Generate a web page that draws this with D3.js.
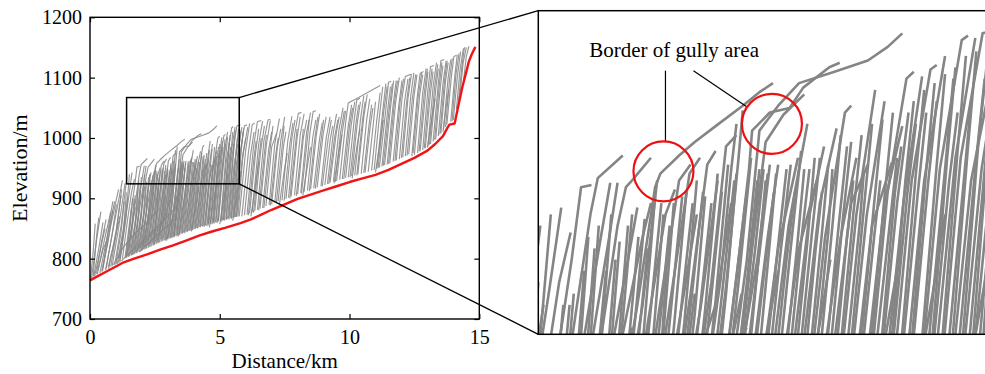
<!DOCTYPE html>
<html>
<head>
<meta charset="utf-8">
<script src="https://cdn.jsdelivr.net/npm/d3@7"></script>
<style>
  body { margin: 0; background: #fff; }
  svg { display: block; }
</style>
</head>
<body>
<svg id="chart" width="985" height="374"></svg>
<script>
// main channel profile (red)
const mainDist = [0, 0.3, 0.6, 1.0, 1.3, 1.7, 2.2, 2.7, 3.2, 3.7, 4.2, 4.7, 5.2, 5.8, 6.2, 6.6, 7.0, 7.5, 8.0, 8.5, 9.0, 9.5, 10.0, 10.5, 11.0, 11.5, 12.0, 12.5, 13.0, 13.3, 13.6, 13.75, 13.85, 14.05, 14.2, 14.35, 14.5, 14.6, 14.7, 14.85];
const mainElev = [764, 771, 778, 787, 794, 800, 807, 815, 822, 830, 838, 845, 851, 859, 865, 873, 881, 890, 899, 906, 913, 920, 927, 933, 939, 947, 957, 967, 979, 990, 1003, 1015, 1022, 1024, 1055, 1085, 1110, 1127, 1138, 1151];

// tributary (gully) profiles, pairs of distance km / elevation m
const gullyA = [
  [0.02,766, 0.12,810, 0.20,858],
  [0.06,768, 0.25,830, 0.42,878],
  [0.12,770, 0.26,840, 0.34,868],
  [0.18,771, 0.40,815, 0.58,850],
  [0.28,774, 0.55,830, 0.80,878],
  [0.38,776, 0.68,840, 0.95,895],
  [0.48,779, 0.80,855, 1.10,915],
  [0.60,781, 0.92,855, 1.25,930],
  [0.72,783, 1.00,845, 1.20,905],
  [0.85,787, 1.10,850, 1.35,925],
  [0.95,789, 1.20,855, 1.42,935],
  [1.05,791, 1.28,848, 1.45,900],
  [0.50,785, 0.75,862, 0.88,895],
  [1.15,794, 1.38,865, 1.52,940],
  [0.30,780, 0.50,815, 0.70,835],
  [0.70,786, 0.95,830, 1.15,870],
  [0.15,772, 0.35,820, 0.50,860],
  [0.25,775, 0.45,830, 0.62,865],
  [0.45,779, 0.70,830, 0.88,880],
  [0.62,783, 0.85,840, 1.02,890],
  [0.80,787, 1.02,845, 1.22,915],
  [1.00,791, 1.20,845, 1.32,895],
  [1.10,793, 1.30,850, 1.40,910],
  [0.90,790, 1.30,820, 1.70,840, 2.20,860, 2.60,880],
  [1.20,796, 1.80,820, 2.40,845, 3.00,870, 3.40,890]
];
const gullyB = [
  [1.15,797, 1.35,860, 1.50,905, 1.62,943],
  [1.25,800, 1.45,865, 1.60,910, 1.71,932],
  [1.35,802, 1.55,868, 1.72,920, 1.81,952, 1.91,953],
  [1.45,806, 1.70,878, 1.90,940, 1.97,956, 2.21,966],
  [1.55,808, 1.80,875, 2.00,930, 2.09,954],
  [1.65,810, 1.90,880, 2.08,930, 2.16,954],
  [1.75,813, 2.00,885, 2.16,935, 2.24,952, 2.30,955, 2.48,965],
  [1.85,815, 2.10,880, 2.28,925, 2.35,943],
  [1.95,817, 2.20,885, 2.40,930, 2.48,945],
  [2.05,819, 2.35,900, 2.52,952, 2.57,958, 2.75,966, 2.90,972, 3.10,979, 3.36,988, 3.52,994, 3.65,998],
  [2.12,820, 2.40,900, 2.54,955],
  [2.22,822, 2.45,892, 2.62,940, 2.71,951],
  [2.32,824, 2.56,898, 2.75,955, 2.86,962],
  [2.42,826, 2.66,900, 2.85,958, 2.95,965],
  [2.52,828, 2.76,895, 2.92,940],
  [2.62,830, 2.86,905, 3.02,962, 3.10,968],
  [2.72,832, 2.96,900, 3.12,955],
  [2.82,834, 3.06,910, 3.20,970, 3.30,975],
  [1.60,806, 2.20,832, 2.80,858, 3.10,900, 3.25,945],
  [1.90,811, 2.60,840, 3.30,866, 3.50,920, 3.60,958],
  [1.40,804, 1.60,850, 1.75,885],
  [2.00,816, 2.20,858, 2.30,890],
  [2.60,828, 2.80,868, 2.90,905]
];
const gullyH = [
  [1.38,801, 1.52,850, 1.60,885],
  [1.48,803, 1.62,860, 1.70,900],
  [1.58,805, 1.75,865, 1.84,915],
  [1.68,807, 1.85,870, 1.94,925],
  [1.78,809, 1.95,868, 2.05,915],
  [1.88,811, 2.05,870, 2.14,920],
  [1.98,813, 2.15,872, 2.26,935],
  [2.08,815, 2.25,875, 2.36,930],
  [2.18,817, 2.35,880, 2.45,925],
  [2.28,819, 2.45,885, 2.58,945],
  [2.38,821, 2.55,885, 2.66,935],
  [2.48,823, 2.65,888, 2.78,948],
  [2.58,825, 2.75,890, 2.88,945],
  [2.68,827, 2.85,895, 2.98,950],
  [2.78,829, 2.95,898, 3.06,945],
  [2.88,831, 3.05,900, 3.16,950]
];
const gullyC = [
  [2.90,830, 3.15,912, 3.25,960, 3.30,980],
  [3.00,832, 3.20,908, 3.32,965, 3.36,986],
  [3.08,833, 3.30,912, 3.42,960, 3.45,977, 3.62,985, 3.81,987, 3.94,996, 4.19,1005, 4.29,1007],
  [3.15,834, 3.40,920, 3.52,977, 3.70,988, 3.90,998, 4.24,1003, 4.56,1008, 4.75,1014, 4.89,1020],
  [3.20,835, 3.45,925, 3.58,972, 3.75,984, 3.95,993],
  [3.25,836, 3.48,925, 3.56,960],
  [3.35,837, 3.60,930, 3.70,962],
  [3.45,839, 3.70,925, 3.89,965],
  [3.55,841, 3.80,935, 3.98,980],
  [3.65,842, 3.90,925, 4.07,955],
  [3.75,844, 4.00,940, 4.14,970],
  [3.85,846, 4.10,945, 4.26,978],
  [3.95,847, 4.15,930, 4.34,985, 4.40,988],
  [4.05,849, 4.30,930, 4.45,965],
  [4.15,850, 4.40,945, 4.56,962],
  [4.25,852, 4.45,940, 4.63,995],
  [4.35,853, 4.55,940, 4.72,990],
  [3.40,837, 3.60,890, 3.70,915],
  [2.95,830, 3.20,872, 3.35,905],
  [3.90,845, 4.10,892, 4.20,920]
];
const gullyI = [
  [2.98,833, 3.15,900, 3.28,955],
  [3.10,835, 3.28,905, 3.40,950],
  [3.22,837, 3.40,910, 3.50,955],
  [3.30,838, 3.50,915, 3.62,962],
  [3.38,840, 3.56,912, 3.66,950],
  [3.50,842, 3.68,918, 3.78,960],
  [3.60,843, 3.78,920, 3.86,950],
  [3.70,845, 3.88,925, 3.95,960],
  [3.80,846, 3.98,928, 4.05,965],
  [3.90,848, 4.06,925, 4.12,950],
  [4.00,849, 4.18,932, 4.22,960],
  [4.10,851, 4.28,935, 4.36,970],
  [4.20,852, 4.36,930, 4.42,955],
  [4.30,854, 4.48,935, 4.52,958]
];
const gullyL = [
  [1.42,802, 1.56,860, 1.64,900],
  [1.52,804, 1.66,862, 1.74,905],
  [1.62,806, 1.78,868, 1.88,930],
  [1.72,808, 1.88,872, 1.98,935],
  [1.82,810, 1.98,870, 2.10,940],
  [1.92,812, 2.08,872, 2.18,928],
  [2.02,814, 2.18,878, 2.30,940],
  [2.14,816, 2.30,880, 2.42,938],
  [2.24,818, 2.40,882, 2.52,948],
  [2.34,820, 2.50,885, 2.60,940],
  [2.44,822, 2.60,888, 2.70,945],
  [2.46,823, 2.58,880, 2.64,925],
  [2.54,824, 2.70,890, 2.82,950],
  [2.64,826, 2.80,892, 2.92,955],
  [2.74,828, 2.90,896, 3.00,948],
  [2.84,830, 3.00,898, 3.12,958],
  [2.94,832, 3.10,902, 3.22,962],
  [3.04,834, 3.20,905, 3.30,958],
  [3.14,836, 3.32,910, 3.44,965],
  [3.24,837, 3.42,912, 3.52,960],
  [3.34,839, 3.50,915, 3.58,955],
  [3.44,841, 3.60,918, 3.68,958],
  [3.54,842, 3.72,922, 3.82,962],
  [3.64,844, 3.82,925, 3.92,968],
  [3.74,845, 3.92,928, 4.00,960],
  [3.84,847, 4.02,930, 4.10,965],
  [3.94,848, 4.12,932, 4.18,962],
  [4.04,850, 4.22,935, 4.30,975],
  [4.14,851, 4.32,938, 4.40,972],
  [4.24,853, 4.42,940, 4.50,975],
  [4.34,854, 4.52,942, 4.60,980],
  [4.44,856, 4.62,945, 4.70,982],
  [4.54,857, 4.72,948, 4.80,985],
  [4.64,858, 4.82,950, 4.88,970],
  [4.74,859, 4.92,955, 5.00,990],
  [4.84,861, 5.02,958, 5.10,995],
  [4.94,862, 5.12,960, 5.20,998],
  [5.04,863, 5.22,962, 5.30,1002],
  [5.14,864, 5.32,965, 5.40,1005],
  [5.24,866, 5.42,968, 5.50,1010],
  [5.34,867, 5.52,970, 5.60,1012],
  [5.44,868, 5.62,972, 5.72,1015],
  [5.54,869, 5.72,975, 5.80,1012],
  [5.64,870, 5.82,978, 5.92,1016]
];
const gullyD = [
  [4.40,853, 4.60,935, 4.79,963],
  [4.50,854, 4.72,945, 4.89,979],
  [4.55,855, 4.75,950, 4.93,1000, 5.00,1003],
  [4.70,857, 4.90,945, 5.08,1001],
  [4.78,858, 4.98,955, 5.16,1004, 5.22,1006],
  [4.90,859, 5.10,955, 5.30,1010],
  [5.05,861, 5.25,960, 5.46,1017, 5.52,1019],
  [5.18,863, 5.40,965, 5.59,1018],
  [5.25,864, 5.45,965, 5.66,1020, 5.80,1022],
  [5.35,865, 5.55,955, 5.70,990],
  [5.45,866, 5.65,960, 5.85,1018],
  [5.55,868, 5.78,975, 5.95,1020, 6.05,1022],
  [5.65,869, 5.85,960, 6.00,1000],
  [5.75,870, 6.00,980, 6.15,1024],
  [4.60,852, 4.80,905, 4.90,930],
  [5.00,857, 5.20,910, 5.30,940],
  [5.50,863, 5.70,915, 5.80,945]
];
const gullyJ = [
  [4.45,855, 4.62,930, 4.68,955],
  [4.58,857, 4.78,940, 4.84,965],
  [4.65,858, 4.84,945, 4.95,985],
  [4.75,859, 4.94,950, 5.02,980],
  [4.85,860, 5.04,950, 5.12,985],
  [4.95,862, 5.14,955, 5.22,990],
  [5.10,863, 5.30,960, 5.38,1000],
  [5.15,864, 5.34,955, 5.42,985],
  [5.30,866, 5.50,965, 5.55,990],
  [5.40,867, 5.60,965, 5.68,1000],
  [5.50,868, 5.70,970, 5.76,1005],
  [5.60,869, 5.80,970, 5.90,1010],
  [5.70,870, 5.90,975, 6.08,1018]
];
const gullyE = [
  [5.85,870, 6.10,975, 6.25,1022, 6.35,1025],
  [5.95,872, 6.18,970, 6.32,1010],
  [6.05,873, 6.30,985, 6.45,1027, 6.60,1029],
  [6.15,875, 6.38,975, 6.50,1015],
  [6.25,877, 6.50,990, 6.65,1028],
  [6.35,879, 6.58,980, 6.72,1020],
  [6.45,881, 6.70,995, 6.86,1030, 6.95,1031],
  [6.55,883, 6.80,990, 6.95,1029],
  [6.65,884, 6.88,980, 7.00,1010],
  [6.78,887, 7.00,985, 7.19,1008],
  [6.90,889, 7.12,990, 7.30,1032],
  [7.00,890, 7.22,985, 7.35,1015],
  [7.12,893, 7.35,995, 7.50,1035],
  [7.25,895, 7.45,985, 7.55,1010],
  [7.40,897, 7.62,995, 7.78,1036],
  [7.55,899, 7.78,1000, 7.90,1030],
  [7.65,901, 7.88,1005, 8.03,1041, 8.15,1042],
  [7.75,903, 7.98,1000, 8.10,1035],
  [7.88,905, 8.10,1005, 8.25,1040],
  [8.00,907, 8.22,1000, 8.35,1030],
  [8.12,909, 8.35,1010, 8.50,1042],
  [8.25,911, 8.48,1010, 8.60,1044, 8.70,1045],
  [8.38,913, 8.58,1000, 8.70,1030],
  [8.50,915, 8.72,1005, 8.85,1040],
  [8.62,917, 8.85,1000, 8.95,1025],
  [8.75,918, 8.98,1005, 9.10,1035],
  [8.90,920, 9.10,1000, 9.25,1035],
  [9.05,922, 9.25,995, 9.35,1020],
  [6.20,870, 6.40,930, 6.50,960],
  [7.30,890, 7.50,950, 7.60,975],
  [8.20,905, 8.40,960, 8.50,985]
];
const gullyF = [
  [9.15,924, 9.38,1010, 9.50,1040],
  [9.25,926, 9.48,1005, 9.60,1035],
  [9.38,928, 9.60,1015, 9.75,1050],
  [9.50,929, 9.72,1010, 9.85,1045],
  [9.62,931, 9.85,1025, 9.95,1058, 10.30,1066, 10.80,1078, 11.18,1087],
  [9.72,932, 9.95,1020, 10.08,1055],
  [9.85,934, 10.06,1020, 10.20,1060],
  [9.95,935, 10.18,1030, 10.28,1063, 10.40,1066],
  [10.08,937, 10.30,1025, 10.42,1060],
  [10.20,938, 10.42,1030, 10.55,1070],
  [10.32,940, 10.55,1035, 10.68,1072],
  [10.45,941, 10.66,1030, 10.78,1065],
  [10.55,942, 10.76,1025, 10.85,1055],
  [10.85,946, 11.05,1030, 11.18,1075],
  [10.95,947, 11.15,1035, 11.28,1085],
  [11.05,949, 11.28,1045, 11.40,1090],
  [11.15,951, 11.38,1040, 11.50,1092, 11.60,1094],
  [11.25,953, 11.48,1050, 11.58,1085],
  [11.35,955, 11.58,1050, 11.70,1095],
  [11.45,956, 11.68,1055, 11.80,1095],
  [11.55,958, 11.78,1060, 11.92,1100],
  [11.68,961, 11.90,1055, 12.02,1095],
  [11.80,963, 12.02,1065, 12.15,1102, 12.40,1106],
  [11.92,965, 12.12,1060, 12.25,1098],
  [12.05,968, 12.25,1065, 12.38,1105],
  [12.15,970, 12.36,1070, 12.48,1108],
  [12.28,973, 12.48,1068, 12.60,1105],
  [9.40,925, 9.60,980, 9.70,1005],
  [10.10,933, 10.30,990, 10.40,1015],
  [11.00,943, 11.20,1000, 11.30,1030]
];
const gullyG = [
  [12.40,970, 12.60,1065, 12.72,1107, 12.85,1110],
  [12.50,972, 12.70,1070, 12.82,1105],
  [12.62,975, 12.82,1075, 12.95,1115],
  [12.72,978, 12.92,1070, 13.02,1110],
  [12.82,980, 13.02,1080, 13.12,1118, 13.25,1120],
  [12.92,983, 13.12,1075, 13.22,1110],
  [13.02,986, 13.22,1085, 13.35,1125],
  [13.12,990, 13.32,1080, 13.42,1115],
  [13.22,994, 13.42,1090, 13.52,1128, 13.65,1130],
  [13.32,998, 13.50,1085, 13.60,1120],
  [13.42,1003, 13.60,1090, 13.72,1128],
  [13.52,1008, 13.70,1095, 13.80,1125],
  [13.62,1014, 13.80,1100, 13.90,1130],
  [13.75,1022, 13.92,1100, 14.02,1135, 14.12,1137],
  [13.90,1027, 14.05,1100, 14.15,1138],
  [14.00,1030, 14.15,1100, 14.28,1143],
  [14.12,1048, 14.25,1110, 14.38,1147, 14.45,1150],
  [14.25,1070, 14.38,1125, 14.50,1150],
  [14.40,1098, 14.50,1135, 14.60,1152],
  [13.00,984, 13.20,1040, 13.30,1065],
  [13.60,1010, 13.75,1060, 13.82,1080]
];
const gullyK = [
  [6.10,872, 6.30,960, 6.40,995],
  [6.30,876, 6.50,965, 6.60,1000],
  [6.50,880, 6.72,975, 6.80,1005],
  [6.70,884, 6.92,975, 7.05,1020],
  [6.95,888, 7.15,970, 7.25,1000],
  [7.18,892, 7.40,985, 7.48,1020],
  [7.48,896, 7.70,990, 7.82,1025],
  [7.70,900, 7.92,990, 7.98,1015],
  [7.95,904, 8.15,985, 8.22,1015],
  [8.15,908, 8.38,1000, 8.45,1030],
  [8.45,912, 8.65,995, 8.78,1035],
  [8.68,916, 8.90,995, 9.00,1030],
  [8.95,920, 9.18,1000, 9.30,1030],
  [9.20,924, 9.42,1000, 9.55,1030],
  [9.45,927, 9.66,1010, 9.80,1045],
  [9.78,932, 10.00,1020, 10.12,1050],
  [10.02,935, 10.25,1025, 10.35,1055],
  [10.28,938, 10.50,1030, 10.60,1060],
  [10.60,943, 10.80,1020, 10.90,1050],
  [10.72,944, 10.92,1025, 11.00,1060],
  [11.10,950, 11.32,1045, 11.45,1085],
  [11.30,954, 11.52,1045, 11.65,1090],
  [11.50,957, 11.72,1055, 11.85,1095],
  [11.75,962, 11.95,1060, 12.08,1098],
  [12.00,967, 12.20,1060, 12.32,1100],
  [12.22,971, 12.42,1065, 12.55,1105],
  [12.45,975, 12.65,1070, 12.78,1108],
  [12.68,978, 12.88,1075, 13.00,1115],
  [12.88,983, 13.08,1080, 13.18,1115],
  [13.08,989, 13.28,1085, 13.40,1122],
  [13.28,997, 13.46,1088, 13.56,1125],
  [13.48,1006, 13.66,1095, 13.76,1128],
  [13.70,1018, 13.86,1100, 13.96,1132],
  [13.95,1028, 14.10,1105, 14.22,1140],
  [14.20,1062, 14.32,1115, 14.42,1148]
];

const xTicks = [0, 5, 10, 15];
const yTicks = [700, 800, 900, 1000, 1100, 1200];
// zoom window on the main plot, and what the enlarged panel shows
const zoomDist = [1.41, 5.75];
const zoomElev = [924, 1067];
const insetDist = [1.4, 5.75];
const insetElev = [887, 1030];
// red circles marking the gully border inside the enlarged panel
const borderDist = [2.60, 3.64];
const borderElev = [959, 980];
const borderLabel = "Border of gully area";

const serif = "'Liberation Serif', 'DejaVu Serif', 'Times New Roman', serif";
const svg = d3.select("#chart");

const x = d3.scaleLinear().domain([0, 15]).range([90, 479.3]);
const y = d3.scaleLinear().domain([700, 1200]).range([319, 17.3]);

const xi = d3.scaleLinear().domain(insetDist).range([538.3, 992]);
const yi = d3.scaleLinear().domain(insetElev).range([334.3, 10.7]);

const toPts = arr => d3.range(0, arr.length, 2).map(i => [arr[i], arr[i + 1]]);
const gullies = [...gullyA, ...gullyB, ...gullyH, ...gullyL, ...gullyC, ...gullyI, ...gullyD, ...gullyJ,
  ...gullyE, ...gullyF, ...gullyG, ...gullyK].map(toPts);
const mainPts = mainDist.map((d, i) => [d, mainElev[i]]);

const lineMain = d3.line().x(d => x(d[0])).y(d => y(d[1]));
const lineInset = d3.line().x(d => xi(d[0])).y(d => yi(d[1]));

// ---- main plot
svg.append("g")
  .selectAll("path")
  .data(gullies)
  .join("path")
  .attr("d", lineMain)
  .attr("fill", "none")
  .attr("stroke", "#858585")
  .attr("stroke-width", 1.15)
  .attr("stroke-opacity", 0.85);

svg.append("path")
  .attr("d", lineMain(mainPts))
  .attr("fill", "none")
  .attr("stroke", "#f01414")
  .attr("stroke-width", 2.4)
  .attr("stroke-linejoin", "round");

const axisFont = g => g.selectAll("text")
  .attr("font-family", serif).style("font-family", serif)
  .style("font-size", "20px").attr("fill", "#000");

svg.append("g")
  .attr("transform", "translate(0," + y(700) + ")")
  .call(d3.axisBottom(x).tickValues(xTicks).tickFormat(d3.format("d")).tickSize(-5).tickSizeOuter(0).tickPadding(11))
  .call(g => g.select(".domain").remove())
  .call(axisFont);
svg.append("g")
  .attr("transform", "translate(0," + y(1200) + ")")
  .call(d3.axisTop(x).tickValues(xTicks).tickSize(-5).tickSizeOuter(0).tickFormat(""))
  .call(g => g.select(".domain").remove());
svg.append("g")
  .attr("transform", "translate(" + x(0) + ",0)")
  .call(d3.axisLeft(y).tickValues(yTicks).tickFormat(d3.format("d")).tickSize(-5).tickSizeOuter(0).tickPadding(8))
  .call(g => g.select(".domain").remove())
  .call(axisFont);
svg.append("g")
  .attr("transform", "translate(" + x(15) + ",0)")
  .call(d3.axisRight(y).tickValues(yTicks).tickSize(-5).tickSizeOuter(0).tickFormat(""))
  .call(g => g.select(".domain").remove());
svg.selectAll(".tick line").attr("stroke", "#000").attr("stroke-width", 1.2);

svg.append("rect")
  .attr("x", x(0)).attr("y", y(1200))
  .attr("width", x(15) - x(0)).attr("height", y(700) - y(1200))
  .attr("fill", "none").attr("stroke", "#000").attr("stroke-width", 1.4);

svg.append("text")
  .attr("x", (x(0) + x(15)) / 2).attr("y", 368)
  .attr("text-anchor", "middle")
  .style("font-family", serif).style("font-size", "21px")
  .text("Distance/km");
svg.append("text")
  .attr("transform", "translate(27," + (y(700) + y(1200)) / 2 + ") rotate(-90)")
  .attr("text-anchor", "middle")
  .style("font-family", serif).style("font-size", "22px")
  .text("Elevation/m");

// ---- zoom window and connectors
const bx0 = x(zoomDist[0]), bx1 = x(zoomDist[1]), by0 = y(zoomElev[1]), by1 = y(zoomElev[0]);
const ix0 = xi.range()[0], iy0 = yi.range()[1], iy1 = yi.range()[0];

svg.append("rect")
  .attr("x", bx0).attr("y", by0).attr("width", bx1 - bx0).attr("height", by1 - by0)
  .attr("fill", "none").attr("stroke", "#000").attr("stroke-width", 1.5);

svg.append("line").attr("x1", bx1).attr("y1", by0).attr("x2", ix0).attr("y2", iy0)
  .attr("stroke", "#000").attr("stroke-width", 1.3);
svg.append("line").attr("x1", bx1).attr("y1", by1).attr("x2", ix0).attr("y2", iy1)
  .attr("stroke", "#000").attr("stroke-width", 1.3);

// ---- enlarged panel
svg.append("clipPath").attr("id", "insetClip")
  .append("rect").attr("x", ix0).attr("y", iy0).attr("width", 1000 - ix0).attr("height", iy1 - iy0);

svg.append("rect").attr("x", ix0).attr("y", iy0).attr("width", 1000 - ix0).attr("height", iy1 - iy0)
  .attr("fill", "#fff");

svg.append("g")
  .attr("clip-path", "url(#insetClip)")
  .selectAll("path")
  .data(gullies)
  .join("path")
  .attr("d", lineInset)
  .attr("fill", "none")
  .attr("stroke", "#858585")
  .attr("stroke-width", 2.6)
  .attr("stroke-linejoin", "round");

svg.append("rect").attr("x", ix0).attr("y", iy0).attr("width", 1000 - ix0).attr("height", iy1 - iy0)
  .attr("fill", "none").attr("stroke", "#000").attr("stroke-width", 1.5);

// annotation
const r = 30;
const c1 = [xi(borderDist[0]), yi(borderElev[0])];
const c2 = [xi(borderDist[1]), yi(borderElev[1])];

svg.append("text")
  .attr("x", ix0 + 51).attr("y", iy0 + 46)
  .style("font-family", serif).style("font-size", "21px")
  .text(borderLabel);

svg.append("line")
  .attr("x1", c1[0] + 2).attr("y1", iy0 + 60).attr("x2", c1[0] + 2).attr("y2", c1[1] - r)
  .attr("stroke", "#000").attr("stroke-width", 1.2);
const lx = c1[0] + 30, ly = iy0 + 60;
const ang = Math.atan2(c2[1] - ly, c2[0] - lx);
svg.append("line")
  .attr("x1", lx).attr("y1", ly)
  .attr("x2", c2[0] - r * Math.cos(ang)).attr("y2", c2[1] - r * Math.sin(ang))
  .attr("stroke", "#000").attr("stroke-width", 1.2);

svg.selectAll(".border-circle")
  .data([c1, c2])
  .join("circle")
  .attr("cx", d => d[0]).attr("cy", d => d[1]).attr("r", r)
  .attr("fill", "none").attr("stroke", "#ee1111").attr("stroke-width", 2.2);
</script>
</body>
</html>
